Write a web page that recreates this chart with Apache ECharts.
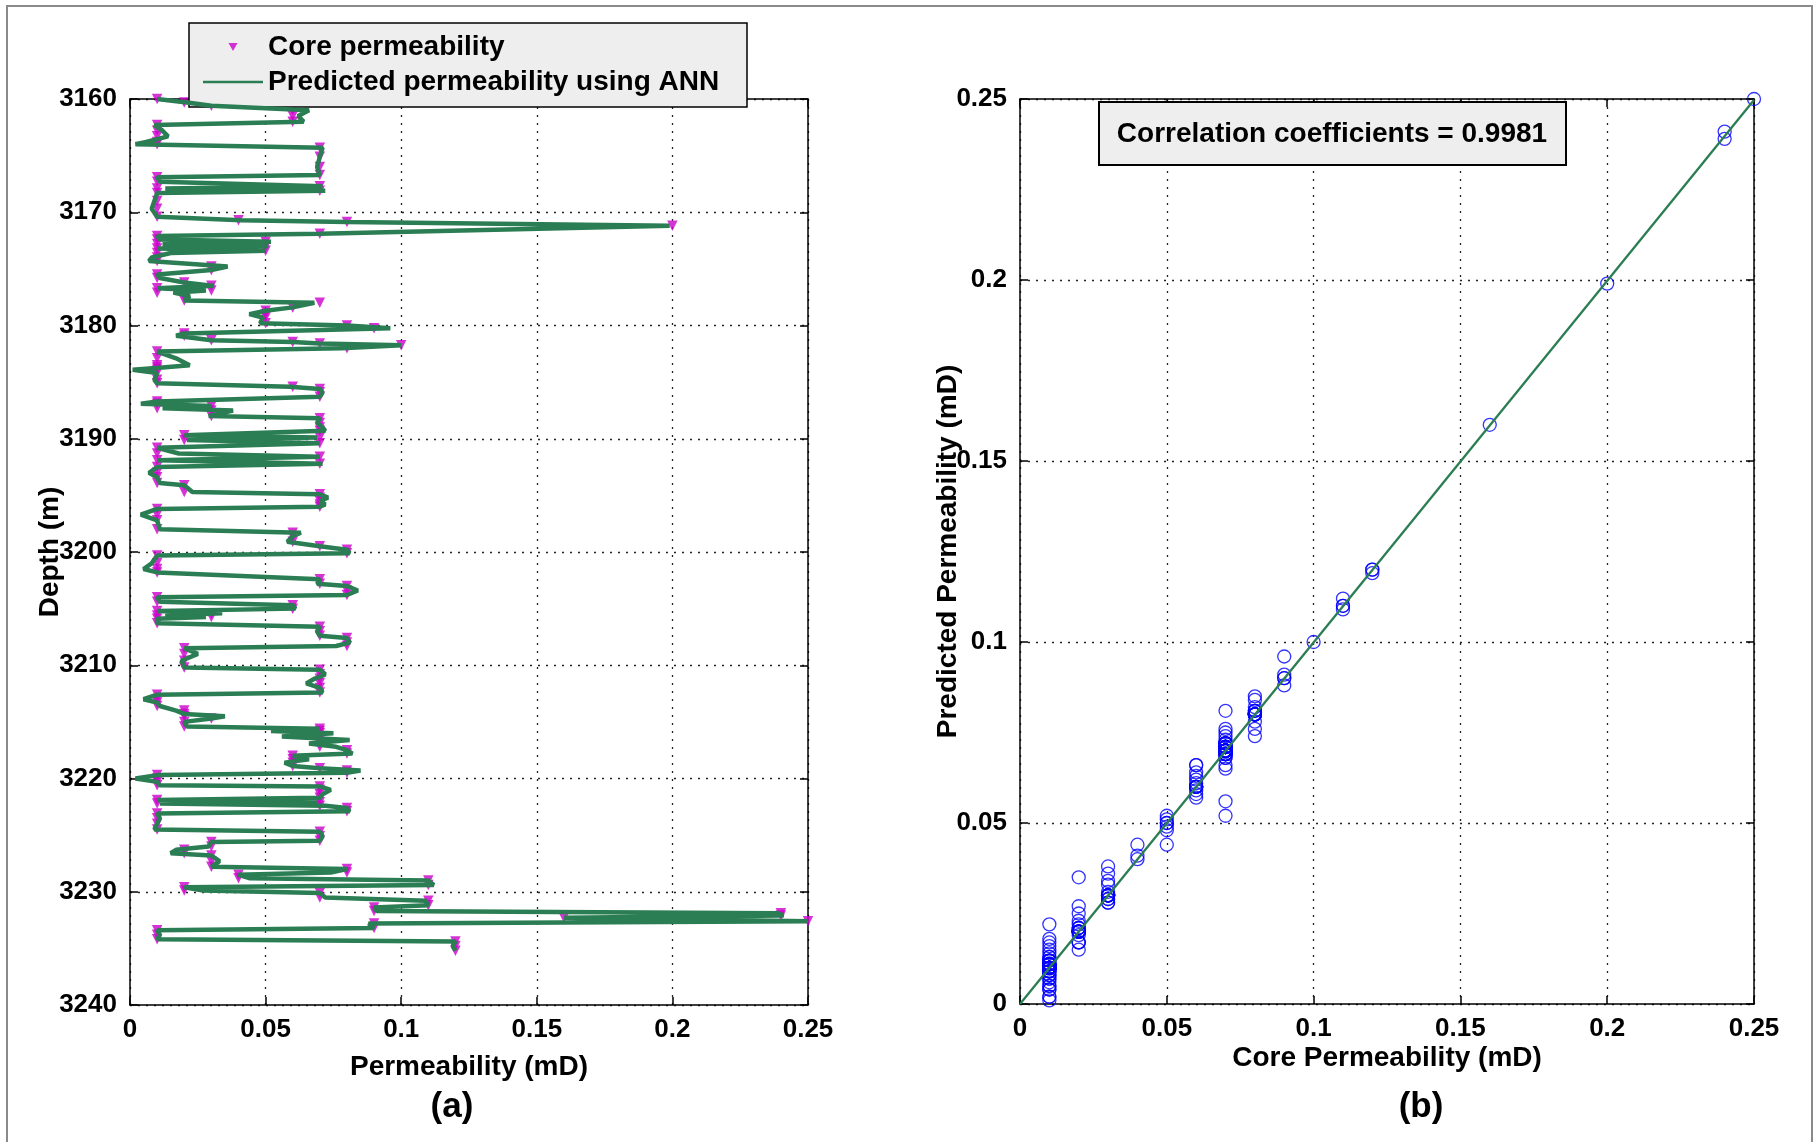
<!DOCTYPE html>
<html>
<head>
<meta charset="utf-8">
<script src="https://cdn.jsdelivr.net/npm/echarts@6/dist/echarts.min.js"></script>
<style>html,body{margin:0;padding:0;background:#fff}#c{width:1818px;height:1142px}</style>
</head>
<body>
<div id="c"></div>
<script>
// ---------------- DATA ----------------
// Depth of each core sample (m)
const depth = [
  3160.0,3160.3,3160.6,3161.0,3161.5,3162.0,3162.3,3162.8,3163.3,3163.8,
  3164.0,3164.3,3165.1,3166.0,3166.7,3166.9,3167.3,3167.7,3167.9,3168.1,
  3168.3,3169.0,3169.7,3170.4,3170.7,3170.85,3171.2,3171.9,3172.1,3172.4,
  3172.6,3172.8,3173.0,3173.2,3173.4,3173.6,3174.0,3174.3,3174.8,3175.1,
  3175.5,3175.8,3176.2,3176.5,3176.7,3176.9,3177.1,3177.4,3177.8,3178.0,
  3178.4,3178.7,3179.0,3179.3,3179.8,
  3180.0,3180.25,3180.7,3180.9,3181.3,3181.45,3181.6,3181.75,3182.0,3182.3,
  3182.9,3183.5,3183.7,3183.9,3184.2,3184.8,3185.1,3185.4,3185.6,3185.9,
  3186.3,3186.7,3186.9,3187.1,3187.3,3187.5,3188.0,3188.2,3188.6,3189.0,
  3189.3,3189.7,3189.9,
  3190.1,3190.4,3190.8,3191.3,3191.6,3191.9,3192.2,3192.5,3193.0,3193.4,
  3193.9,3194.1,3194.7,3194.9,3195.2,3195.5,3195.8,3196.0,3196.2,3196.7,
  3197.2,3198.0,3198.3,3198.6,3199.1,3199.5,3199.8,
  3200.1,3200.3,3201.0,3201.5,3201.8,3202.4,3202.8,3203.0,3203.4,3203.8,
  3204.0,3204.4,3204.7,3205.0,3205.2,3205.4,3205.6,3205.75,3205.9,3206.3,
  3206.6,3207.0,3207.4,3207.6,3208.0,3208.3,3208.5,3209.0,3209.6,
  3210.2,3210.4,3210.8,3211.2,3211.6,3212.0,3212.4,3212.6,3213.0,3213.3,
  3213.6,3214.0,3214.3,3214.5,3214.7,3215.0,3215.4,3215.6,3215.8,3216.0,
  3216.3,3216.6,3216.9,3217.2,3217.5,3217.8,3218.0,3218.3,3218.6,3218.9,
  3219.1,3219.3,3219.5,3219.7,
  3220.0,3220.3,3220.6,3220.7,3221.0,3221.4,3221.7,3221.9,3222.1,3222.2,
  3222.4,3222.6,3222.9,3223.1,3223.5,3224.0,3224.5,3224.7,3225.1,3225.5,
  3225.6,3226.0,3226.3,3226.6,3226.8,3227.3,3227.8,3228.0,3228.3,3228.5,
  3228.8,3229.0,3229.4,3229.6,3229.9,
  3230.1,3230.5,3230.8,3231.2,3231.4,3231.7,3231.9,3232.1,3232.3,3232.6,
  3232.8,3233.2,3233.4,3233.8,3234.2,3234.4,3234.8,3235.2
];
// Core (measured) permeability, mD
const corePerm = [
  0.01,0.02,0.03,0.06,0.06,0.06,0.01,0.01,0.01,0.01,
  0.01,0.07,0.07,0.07,0.07,0.01,0.01,0.07,0.01,0.07,
  0.01,0.01,0.01,0.01,0.04,0.08,0.20,0.07,0.01,0.01,
  0.05,0.01,0.05,0.01,0.05,0.01,0.01,0.01,0.03,0.03,
  0.01,0.01,0.02,0.03,0.01,0.03,0.01,0.02,0.02,0.07,
  0.06,0.05,0.05,0.05,0.05,
  0.08,0.09,0.02,0.02,0.03,0.06,0.07,0.10,0.08,0.01,
  0.01,0.01,0.01,0.01,0.01,0.01,0.01,0.06,0.07,0.07,
  0.07,0.01,0.01,0.03,0.01,0.03,0.03,0.07,0.07,0.07,
  0.07,0.02,0.07,
  0.02,0.07,0.01,0.01,0.07,0.01,0.07,0.01,0.01,0.01,
  0.01,0.02,0.02,0.07,0.07,0.07,0.07,0.07,0.01,0.01,
  0.01,0.01,0.06,0.06,0.06,0.07,0.08,
  0.08,0.01,0.01,0.01,0.01,0.07,0.07,0.08,0.08,0.08,
  0.01,0.01,0.06,0.06,0.01,0.03,0.01,0.03,0.01,0.01,
  0.07,0.07,0.07,0.08,0.08,0.08,0.02,0.02,0.02,
  0.02,0.07,0.07,0.07,0.07,0.07,0.07,0.01,0.01,0.01,
  0.01,0.02,0.02,0.02,0.03,0.02,0.02,0.07,0.07,0.07,
  0.07,0.07,0.07,0.07,0.08,0.08,0.06,0.06,0.06,0.06,
  0.07,0.08,0.08,0.01,
  0.01,0.01,0.01,0.07,0.07,0.07,0.07,0.01,0.07,0.01,
  0.07,0.08,0.08,0.01,0.01,0.01,0.01,0.07,0.07,0.07,
  0.03,0.03,0.02,0.02,0.03,0.03,0.03,0.08,0.08,0.04,
  0.04,0.11,0.11,0.02,0.02,
  0.07,0.07,0.11,0.11,0.09,0.09,0.24,0.24,0.16,0.25,
  0.09,0.09,0.01,0.01,0.01,0.12,0.12,0.12
];
// ANN predicted permeability, mD
const predPerm = [
  0.010,0.021,0.030,0.066,0.062,0.064,0.009,0.012,0.014,0.006,
  0.002,0.071,0.070,0.069,0.070,0.010,0.011,0.071,0.013,0.072,
  0.010,0.009,0.008,0.010,0.041,0.080,0.199,0.070,0.010,0.011,
  0.052,0.012,0.051,0.010,0.050,0.015,0.008,0.007,0.036,0.030,
  0.010,0.011,0.020,0.031,0.010,0.028,0.016,0.022,0.020,0.068,
  0.060,0.050,0.044,0.049,0.048,
  0.080,0.096,0.020,0.017,0.030,0.060,0.070,0.100,0.078,0.010,
  0.017,0.022,0.012,0.001,0.010,0.009,0.010,0.059,0.070,0.071,
  0.070,0.010,0.004,0.030,0.012,0.038,0.029,0.070,0.069,0.071,
  0.072,0.020,0.069,
  0.021,0.070,0.010,0.018,0.070,0.010,0.071,0.010,0.007,0.010,
  0.011,0.020,0.023,0.070,0.073,0.070,0.072,0.070,0.010,0.004,
  0.010,0.011,0.063,0.060,0.058,0.070,0.080,
  0.081,0.010,0.008,0.005,0.010,0.070,0.069,0.080,0.084,0.080,
  0.010,0.011,0.060,0.061,0.010,0.034,0.013,0.028,0.010,0.010,
  0.070,0.069,0.070,0.080,0.081,0.076,0.020,0.025,0.019,
  0.020,0.070,0.072,0.068,0.065,0.070,0.071,0.010,0.005,0.010,
  0.011,0.017,0.020,0.035,0.030,0.020,0.021,0.070,0.052,0.075,
  0.056,0.081,0.066,0.076,0.080,0.082,0.060,0.066,0.057,0.060,
  0.070,0.085,0.080,0.010,
  0.002,0.010,0.011,0.070,0.074,0.071,0.070,0.010,0.069,0.011,
  0.072,0.080,0.081,0.010,0.011,0.010,0.009,0.070,0.071,0.070,
  0.030,0.029,0.017,0.015,0.030,0.033,0.030,0.080,0.074,0.040,
  0.044,0.110,0.112,0.020,0.027,
  0.070,0.072,0.109,0.110,0.090,0.091,0.239,0.241,0.160,0.250,
  0.088,0.090,0.010,0.011,0.010,0.120,0.119,0.120
];
// Regression line of panel (b): [core, predicted] end points
const fitCore = [0, 0.25];
const fitPred = [0, 0.2497];
// Axis ranges / ticks
const depthRange = [3160, 3240], depthStep = 10;
const permRange = [0, 0.25], permStep = 0.05;
const corrText = 'Correlation coefficients = 0.9981';
const panelLabels = ['(a)', '(b)'];
const legendNames = ['Core permeability', 'Predicted permeability using ANN'];

// ---------------- CHART ----------------
const FONT = '"Liberation Sans", Arial, Helvetica, sans-serif';
const GREEN = '#2b7d53';
const MAGENTA = '#cc00cc';
const fmt = v => String(+v.toFixed(4));
const lbl = {color:'#000', fontSize:26, fontWeight:'bold', fontFamily:FONT, formatter:fmt};
const nameStyle = {color:'#000', fontSize:28, fontWeight:'bold', fontFamily:FONT};
const split = {show:true, lineStyle:{color:'#222', type:[2,6], width:1.3}};
const axLine = {show:true, onZero:false, lineStyle:{color:'#000', width:1.5}};
const tick = {show:true, inside:true, length:8, lineStyle:{color:'#000', width:1.5}};
const noLabel = {show:false};

function mainAx(extra) {
  return Object.assign({type:'value', axisLine:axLine, axisTick:tick, splitLine:split,
    nameTextStyle:nameStyle, nameLocation:'middle', nameMoveOverlap:false}, extra);
}
function mirrorAx(extra) {
  return Object.assign({type:'value', axisLine:axLine, axisTick:tick, axisLabel:noLabel,
    splitLine:{show:false}}, extra);
}
const legendBase = {
  orient:'vertical', left:203, itemWidth:60, padding:0, itemGap:0,
  backgroundColor:'rgba(0,0,0,0)', borderWidth:0,
  textStyle:Object.assign({lineHeight:30}, nameStyle),
  selectedMode:false, symbolRotate:0
};

const chart = echarts.init(document.getElementById('c'), null, {renderer:'canvas'});
const option = {
  animation:false,
  backgroundColor:'#fff',
  grid:[
    {left:130, top:99, width:678, height:906},
    {left:1020, top:99, width:734, height:905}
  ],
  xAxis:[
    mainAx({gridIndex:0, position:'bottom', min:permRange[0], max:permRange[1], interval:permStep,
      axisLabel:Object.assign({margin:12}, lbl), name:'Permeability (mD)', nameGap:48}),
    mirrorAx({gridIndex:0, position:'top', min:permRange[0], max:permRange[1], interval:permStep}),
    mainAx({gridIndex:1, position:'bottom', min:permRange[0], max:permRange[1], interval:permStep,
      axisLabel:Object.assign({margin:12}, lbl), name:'Core Permeability (mD)', nameGap:40}),
    mirrorAx({gridIndex:1, position:'top', min:permRange[0], max:permRange[1], interval:permStep})
  ],
  yAxis:[
    mainAx({gridIndex:0, position:'left', inverse:true, min:depthRange[0], max:depthRange[1], interval:depthStep,
      axisLabel:Object.assign({margin:13}, lbl), name:'Depth (m)', nameRotate:90, nameGap:66}),
    mirrorAx({gridIndex:0, position:'right', inverse:true, min:depthRange[0], max:depthRange[1], interval:depthStep}),
    mainAx({gridIndex:1, position:'left', min:permRange[0], max:permRange[1], interval:permStep,
      axisLabel:Object.assign({margin:13}, lbl), name:'Predicted Permeability (mD)', nameRotate:90, nameGap:58}),
    mirrorAx({gridIndex:1, position:'right', min:permRange[0], max:permRange[1], interval:permStep})
  ],
  legend:[
    Object.assign({}, legendBase, {
      top:32, itemHeight:14,
      data:[{name:legendNames[0], icon:'path://M0,0M60,14M25.5,3L34.5,3L30,11Z'}]
    }),
    Object.assign({}, legendBase, {
      top:67, itemHeight:2.5,
      data:[{name:legendNames[1], icon:'rect'}]
    })
  ],
  series:[
    {
      name:legendNames[0], type:'scatter', xAxisIndex:0, yAxisIndex:0,
      data:corePerm.map((c, i) => [c, depth[i]]),
      symbol:'triangle', symbolRotate:180, symbolSize:10.5,
      itemStyle:{color:MAGENTA}
    },
    {
      name:legendNames[1], type:'line', xAxisIndex:0, yAxisIndex:0,
      data:predPerm.map((p, i) => [p, depth[i]]),
      symbol:'none', showSymbol:false,
      lineStyle:{color:GREEN, width:4.5}, itemStyle:{color:GREEN}
    },
    {
      name:'Scatter', type:'scatter', xAxisIndex:2, yAxisIndex:2,
      data:corePerm.map((c, i) => [c, predPerm[i]]),
      symbol:'circle', symbolSize:13,
      itemStyle:{color:'rgba(0,0,0,0)', borderColor:'#0000ff', borderWidth:1.3}
    },
    {
      name:'Fit', type:'line', xAxisIndex:2, yAxisIndex:2,
      data:fitCore.map((c, i) => [c, fitPred[i]]),
      symbol:'none', lineStyle:{color:GREEN, width:2.3}
    }
  ],
  graphic:[
    {type:'rect', shape:{x:7, y:6, width:1805, height:1150}, style:{fill:null, stroke:'#8a8a8a', lineWidth:2}, silent:true},
    {type:'rect', z:3, shape:{x:189, y:23, width:558, height:84}, style:{fill:'#eeeeee', stroke:'#000', lineWidth:1.5}, silent:true},
    {type:'rect', shape:{x:1099, y:102, width:467, height:63}, style:{fill:'#eeeeee', stroke:'#000', lineWidth:2}, z:100},
    {type:'text', x:1332, y:134, z:101, style:{text:corrText, fill:'#000', font:'bold 28px ' + FONT, textAlign:'center', textVerticalAlign:'middle'}},
    {type:'text', x:452, y:1107, style:{text:panelLabels[0], fill:'#000', font:'bold 35px ' + FONT, textAlign:'center', textVerticalAlign:'middle'}},
    {type:'text', x:1421, y:1107, style:{text:panelLabels[1], fill:'#000', font:'bold 35px ' + FONT, textAlign:'center', textVerticalAlign:'middle'}}
  ]
};
chart.setOption(option);
</script>
</body>
</html>
